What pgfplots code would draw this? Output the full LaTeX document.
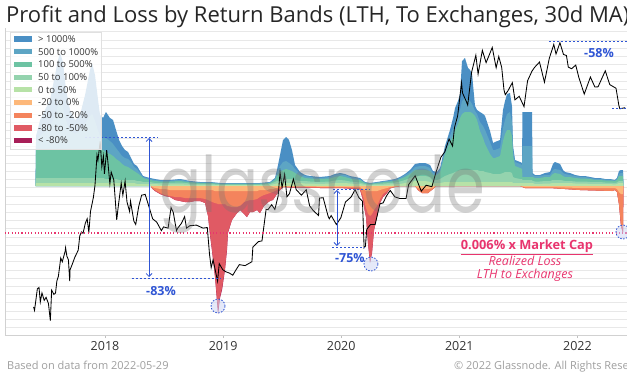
\documentclass[border=0pt]{standalone}
\usepackage{fontspec}
\setmainfont{Open Sans}
\newfontfamily\wmfont{Poppins}
\usepackage{graphicx}
\usepackage{pgfplots}
\pgfplotsset{compat=1.18}
\usepackage{pgfplotstable}
\usetikzlibrary{arrows.meta}

\definecolor{cA}{HTML}{4A8FC4}
\definecolor{cB}{HTML}{5DA5C4}
\definecolor{cC}{HTML}{6DC3A3}
\definecolor{cD}{HTML}{94D3AE}
\definecolor{cE}{HTML}{B7E2A7}
\definecolor{cF}{HTML}{FDB87A}
\definecolor{cG}{HTML}{F4845D}
\definecolor{cH}{HTML}{E05A64}
\definecolor{cI}{HTML}{A81F58}
\definecolor{annblue}{HTML}{2F55D4}
\definecolor{annpink}{HTML}{E8356E}

\pgfplotstableread{
year b1 b2 b3 b4 b5
2017.412 0 0 0 0 0
2017.416 3 8 37 45 50
2017.450 3 8 37 50 66
2017.492 3 8 37 55 76
2017.534 3 8 37 60 86
2017.577 3 8 37 70 111
2017.602 3 8 37 80 126
2017.619 3 8 37 85 133
2017.644 3 8 37 78 124
2017.670 3 8 37 65 96
2017.704 3 8 37 55 76
2017.746 3 8 37 52 66
2017.788 3 8 37 55 71
2017.831 3 8 37 62 91
2017.873 3 8 37 70 116
2017.890 3 8 37 72 123
2017.915 3 8 37 65 111
2017.941 3 8 37 55 86
2017.958 3 8 37 50 71
2017.983 3 8 36 48 68
2018.008 3 7 34 48 74
2018.042 3 7 32 45 68
2018.068 3 7 30 42 66
2018.093 3 7 27 38 56
2018.119 3 6 25 34 46
2018.144 3 6 22 30 40
2018.169 3 6 20 28 36
2018.195 3 6 19 27 34
2018.220 3 6 17 24 28
2018.246 3 6 15 19 22
2018.271 2 5 13 17 20
2018.296 2 5 11 13 15
2018.322 2 4 8 9 10
2018.347 2 4 7 8 9
2018.381 2 4 6 7 8
2018.423 2 3 5 6 7
2018.466 1.5 3 4.5 5.4 6
2018.550 1.5 3 4.5 5.4 6
2018.635 1.7 3.5 5 6.3 7
2018.720 1.2 2.5 3.7 4.5 5
2018.804 1 2 3 3.6 4
2018.889 1 2 3 3.6 4
2018.974 0.8 1.5 2.2 2.7 3
2019.143 0.8 1.5 2.2 2.7 3
2019.312 0.8 1.5 2.2 2.7 3
2019.397 1 2 3 3.6 4
2019.439 2 4 6 7 8
2019.456 2.5 5 10 13 16
2019.482 3 6 14 20 31
2019.507 3 7 16 24 46
2019.533 3 7 17 25 49
2019.558 3 7 16 23 46
2019.583 3 7 15 21 36
2019.609 3 6 13 17 21
2019.651 3 5 10 12 14
2019.693 2.5 5 8 10 11
2019.736 2.5 4.5 7.5 9 10
2019.820 2 4 7 8 9
2019.905 2.5 4.5 7.5 9 10
2019.947 3 5.5 9 11 12
2019.990 3 6 10 12 13
2020.032 3 5.5 9 11 12
2020.074 2.5 4.5 7.5 9 10
2020.117 2 4 6.5 8 9
2020.159 2 3.5 6 7 8
2020.201 1 2 3 3.6 4
2020.244 0.8 1.5 2.2 2.7 3
2020.303 1 2 3 3.6 4
2020.354 1.2 2.5 3.7 4.5 5
2020.413 1.5 3 4.5 5.4 6
2020.456 1.7 3.5 5 6.3 7
2020.498 2 4.5 7 8 9
2020.540 3 6 9 11 12
2020.583 4 8 12 14 16
2020.625 5 10 16 19 22
2020.667 5 10 16 20 23
2020.710 5 10 16 20 23
2020.752 4 9 15 18 21
2020.777 3 6 11 13 15
2020.811 3 6 11 12 14
2020.837 3 7 14 16 18
2020.879 4 10 32 36 40
2020.921 4 12 44 50 56
2020.947 4 13 50 58 68
2020.964 4 14 56 65 78
2020.989 4 15 62 72 85
2021.006 4 16 68 76 92
2021.023 4 16 72 85 125
2021.048 4 16 74 88 128
2021.074 4 16 74 86 118
2021.091 4 16 74 85 116
2021.108 4 16 73 82 112
2021.133 4 16 70 75 80
2021.150 4 16 66 72 76
2021.175 4 15 55 64 74
2021.201 4 15 48 60 72
2021.218 4 14 42 56 70
2021.260 4 13 32 44 55
2021.286 4 12 28 36 43
2021.302 4 12 28 36 44
2021.345 4 12 30 38 46
2021.370 4 13 45 58 76
2021.387 4 14 52 66 85
2021.404 4 14 56 72 92
2021.429 4 14 56 74 93
2021.446 4 13 50 64 80
2021.455 3 9 30 36 40
2021.472 3 8 20 24 26
2021.514 3 7 18 22 24
2021.531 3 7 17 21 23
2021.535 3 6 9 40 74
2021.616 3 6 9 40 74
2021.620 3 5 9 11 13
2021.641 2 4.5 8 10 11
2021.683 2 4.5 8 10 11
2021.726 2.5 5 9 11 13
2021.768 2.5 5 9 11 14
2021.793 3 6 12 16 22
2021.810 3 6 13 17 24
2021.853 3 6 12 16 22
2021.878 3 5.5 10 13 16
2021.895 3 5 9 12 14
2021.937 3 5 9 11 13
2021.980 2.5 4.5 8 10 11
2022.022 2.5 4.5 7.5 9 10
2022.064 2.5 4.5 7.5 9 10
2022.107 2 4 7 8 9
2022.149 2 4 6 7 8
2022.191 2 4 6 7 8
2022.234 2 3.5 5.5 6.5 7
2022.276 2 3.5 5.5 6.5 7
2022.318 1.5 3 5 5.5 6
2022.335 2 3.5 6 7 8
2022.352 3 5 10 12 15
2022.369 3 5 10 13 16
2022.386 3 5 10 13 16
2022.390 0 0 0 0 0
}\profit

\pgfplotstableread{
year l1 l2 l3 l4
2018.390 0 0 0 0
2018.398 -1 -2 -2.5 -2.5
2018.423 -2 -4 -5 -5
2018.466 -3 -7 -8 -8
2018.508 -3 -9 -10 -10
2018.550 -4 -10 -11 -11
2018.593 -4 -11 -14 -14
2018.635 -4 -11 -15 -15
2018.677 -4 -12 -16 -16
2018.720 -4 -12 -16 -16
2018.762 -4 -12 -15 -15
2018.804 -4 -12 -15 -15
2018.847 -4 -13 -17 -17
2018.872 -4 -14 -30 -30
2018.889 -4 -15 -48 -49
2018.906 -4 -16 -64 -65
2018.931 -5 -17 -90 -91
2018.957 -5 -18 -125 -128
2018.974 -5 -18 -110 -112
2018.991 -5 -18 -102 -104
2019.016 -5 -18 -82 -84
2019.033 -5 -20 -62 -64
2019.041 -5 -20 -46 -47
2019.075 -5 -21 -34 -34
2019.118 -5 -21 -27 -27
2019.143 -5 -20 -24 -24
2019.177 -5 -16 -28 -28
2019.202 -5 -15 -31 -31
2019.228 -5 -14 -26 -26
2019.253 -5 -14 -26 -26
2019.287 -5 -13 -24 -24
2019.312 -4 -11 -27 -27
2019.346 -4 -9 -20 -20
2019.372 -4 -8 -17 -17
2019.397 -3 -7 -15 -15
2019.422 -3 -6 -14 -14
2019.456 -2 -4 -8 -8
2019.482 -1 -2 -4 -4
2019.507 -0.5 -1 -1 -1
2019.566 -0.5 -1 -1.5 -1.5
2019.651 -0.5 -1 -1.5 -1.5
2019.820 -0.8 -1.5 -2 -2
2019.990 -0.8 -1.5 -2 -2
2020.117 -1 -2 -3 -3
2020.159 -1 -2.5 -3.5 -3.5
2020.184 -3 -10 -14 -14
2020.201 -4 -18 -26 -26
2020.210 -5 -22 -31 -31
2020.227 -5 -28 -57 -58
2020.244 -5 -30 -76 -77
2020.261 -5 -28 -66 -67
2020.278 -5 -24 -44 -44
2020.303 -5 -20 -31 -31
2020.329 -4 -13 -17 -17
2020.354 -3 -8 -11 -11
2020.388 -2 -5 -7 -7
2020.413 -1 -2 -2.5 -2.5
2020.456 -0.5 -1 -1 -1
2020.498 0 0 0 0
2020.625 0 0 0 0
2020.650 -2 -4 -4 -4
2020.684 -3 -7 -7 -7
2020.735 -3 -7 -7 -7
2020.777 -2 -3 -3 -3
2020.803 0 0 0 0
2021.514 0 0 0 0
2021.556 -1 -2 -2 -2
2021.768 -1 -2 -2 -2
2022.022 -2 -4 -4 -4
2022.293 -2 -5 -5 -5
2022.318 -2 -4 -4 -4
2022.335 -3 -6 -6 -6
2022.352 -6 -18 -18 -18
2022.369 -8 -38 -40 -40
2022.386 -8 -42 -47 -47
2022.390 0 0 0 0
}\loss

\pgfplotstableread{
year p
2017.395 2300
2017.403 2200
2017.427 2900
2017.441 2950
2017.452 2450
2017.466 2750
2017.485 2500
2017.501 2600
2017.521 2400
2017.537 1930
2017.548 2850
2017.567 2700
2017.581 2750
2017.592 3200
2017.605 3400
2017.625 4300
2017.638 4100
2017.663 4700
2017.666 4900
2017.677 4400
2017.690 4200
2017.701 3200
2017.704 3700
2017.718 3900
2017.745 4350
2017.773 4750
2017.786 5700
2017.800 6000
2017.814 5900
2017.833 6700
2017.849 7100
2017.863 5950
2017.877 7800
2017.901 9300
2017.915 10900
2017.932 16000
2017.940 15000
2017.959 19100
2017.973 13800
2017.986 15800
2017.995 12600
2018.014 17100
2018.025 14500
2018.041 11100
2018.052 12900
2018.074 11700
2018.088 8800
2018.099 7000
2018.110 8100
2018.137 11200
2018.151 9600
2018.170 11500
2018.186 8800
2018.208 7800
2018.216 8900
2018.244 6900
2018.260 6600
2018.285 8300
2018.310 9600
2018.340 9700
2018.367 8500
2018.403 7100
2018.438 6800
2018.477 6100
2018.496 6400
2018.534 6300
2018.559 8200
2018.578 7700
2018.605 6100
2018.616 6300
2018.647 6700
2018.674 7300
2018.690 6300
2018.718 6500
2018.773 6550
2018.830 6300
2018.866 6350
2018.885 4500
2018.899 3800
2018.915 4200
2018.953 3200
2018.967 4000
2018.997 3700
2019.025 3600
2019.052 3550
2019.082 3450
2019.104 3650
2019.137 3950
2019.186 3900
2019.244 4100
2019.252 4950
2019.299 5300
2019.329 5350
2019.364 8000
2019.381 8000
2019.411 8500
2019.438 8000
2019.466 9500
2019.482 12900
2019.499 10600
2019.521 12500
2019.540 9400
2019.562 9800
2019.595 11800
2019.619 10300
2019.663 9600
2019.704 10300
2019.732 8400
2019.762 7900
2019.808 7400
2019.816 9250
2019.847 9300
2019.890 7300
2019.899 7100
2019.915 7400
2019.959 6600
2019.997 7200
2020.036 8800
2020.085 9400
2020.117 10300
2020.150 9300
2020.180 8900
2020.194 4900
2020.205 5000
2020.216 6200
2020.248 6600
2020.287 6600
2020.328 8600
2020.355 8700
2020.383 9500
2020.415 10200
2020.454 9400
2020.497 9200
2020.549 9200
2020.571 11000
2020.626 12300
2020.678 10100
2020.719 10900
2020.768 10700
2020.803 12900
2020.844 15600
2020.877 16700
2020.913 19700
2020.943 18000
2020.959 22800
2020.986 26500
2021.019 40500
2021.027 35500
2021.058 32000
2021.071 30400
2021.104 46200
2021.140 57500
2021.159 45200
2021.195 61200
2021.227 52300
2021.279 63500
2021.312 49000
2021.334 56600
2021.359 49200
2021.378 37000
2021.389 34700
2021.414 36700
2021.449 40500
2021.471 32500
2021.507 34000
2021.548 29800
2021.578 41500
2021.616 47000
2021.638 49300
2021.679 52700
2021.721 40700
2021.762 55300
2021.800 66000
2021.819 58400
2021.852 67500
2021.882 58100
2021.907 57300
2021.923 49400
2021.951 48400
2021.986 50700
2022.011 43500
2022.058 35000
2022.110 43500
2022.148 38300
2022.175 38400
2022.236 47100
2022.274 39500
2022.327 37700
2022.351 30300
2022.359 29000
2022.405 29400
}\price

\pgfplotsset{
  base/.style={
    at={(5pt,41pt)}, anchor=south west,
    scale only axis, width=622pt, height=307pt,
    xmin=2017.153, xmax=2022.42,
  }
}

\begin{document}
\begin{tikzpicture}
% ---------- bands ----------
\begin{axis}[base,
  ymin=-149, ymax=158,
  axis x line*=bottom, axis y line*=left,
  axis line style={black!18, line width=0.8pt},
  xtick={2018,2019,2020,2021,2022},
  xticklabels={2018,2019,2020,2021,2022},
  xticklabel style={font=\fontsize{12.5}{12.5}\selectfont, text=black!80},
  xtick style={black!25, line width=0.6pt},
  tick align=outside, major tick length=3pt,
  ytick={-141.3,-133.09,...,155}, yticklabels={},
  ytick style={draw=none},
  ymajorgrids, grid style={black!9, line width=0.6pt},
]
\addplot[fill=cA, draw=none] table[x=year,y=b5]{\profit} \closedcycle;
\addplot[fill=cB, draw=none] table[x=year,y=b4]{\profit} \closedcycle;
\addplot[fill=cC, draw=none] table[x=year,y=b3]{\profit} \closedcycle;
\addplot[fill=cD, draw=none] table[x=year,y=b2]{\profit} \closedcycle;
\addplot[fill=cE, draw=none] table[x=year,y=b1]{\profit} \closedcycle;
\addplot[fill=cI, draw=none] table[x=year,y=l4]{\loss} \closedcycle;
\addplot[fill=cH, draw=none] table[x=year,y=l3]{\loss} \closedcycle;
\addplot[fill=cG, draw=none] table[x=year,y=l2]{\loss} \closedcycle;
\addplot[fill=cF, draw=none] table[x=year,y=l1]{\loss} \closedcycle;
\end{axis}

% ---------- price ----------
\begin{axis}[base, hide axis, ymode=log, ymin=1606, ymax=81470]
\addplot[black, line width=0.85pt] table[x=year,y=p]{\price};
\end{axis}

% ---------- annotations ----------
\begin{axis}[base, hide axis, ymin=-149, ymax=158, clip=false]
\draw[annpink, line width=1.1pt, dash pattern=on 1.1pt off 2.2pt]
  (axis cs:2017.153,-47) -- (axis cs:2022.42,-47);
% 2018 -> 2019
\draw[annblue, line width=0.9pt, dash pattern=on 2pt off 2pt]
  (axis cs:2017.831,49) -- (axis cs:2018.449,49);
\draw[annblue, line width=0.9pt, dash pattern=on 2pt off 2pt]
  (axis cs:2018.225,-92) -- (axis cs:2018.974,-92);
\draw[annblue, line width=0.8pt, {Straight Barb[length=3pt,width=6pt]}-{Straight Barb[length=3pt,width=6pt]}]
  (axis cs:2018.373,48) -- (axis cs:2018.373,-91);
\node[annblue, font=\bfseries\fontsize{12.5}{12.5}\selectfont] at (axis cs:2018.474,-105) {-83\%};
\draw[annblue, line width=0.8pt, dash pattern=on 1.5pt off 1.5pt, fill=annblue!25, fill opacity=0.5]
  (axis cs:2018.957,-120) circle[radius=7pt];
% 2020
\draw[annblue, line width=0.9pt, dash pattern=on 2pt off 2pt]
  (axis cs:2019.931,-3) -- (axis cs:2020.244,-3);
\draw[annblue, line width=0.9pt, dash pattern=on 2pt off 2pt]
  (axis cs:2019.922,-61) -- (axis cs:2020.201,-61);
\draw[annblue, line width=0.8pt, {Straight Barb[length=3pt,width=6pt]}-{Straight Barb[length=3pt,width=6pt]}]
  (axis cs:2019.964,-4) -- (axis cs:2019.964,-60);
\node[annblue, font=\bfseries\fontsize{12.5}{12.5}\selectfont] at (axis cs:2020.074,-72) {-75\%};
\draw[annblue, line width=0.8pt, dash pattern=on 1.5pt off 1.5pt, fill=annblue!25, fill opacity=0.5]
  (axis cs:2020.252,-78) circle[radius=7pt];
% 2022
\draw[annblue, line width=0.9pt, dash pattern=on 2pt off 2pt]
  (axis cs:2021.759,145) -- (axis cs:2022.42,145);
\draw[annblue, line width=0.9pt, dash pattern=on 2pt off 2pt]
  (axis cs:2022.293,78) -- (axis cs:2022.42,78);
\node[annblue, font=\bfseries\fontsize{12.5}{12.5}\selectfont] at (axis cs:2022.183,133) {-58\%};
\draw[annblue, line width=0.8pt, dash pattern=on 1.5pt off 1.5pt, fill=annblue!25, fill opacity=0.5]
  (axis cs:2022.386,-46) circle[radius=7pt];
% pink text
\node[annpink, font=\bfseries\fontsize{12.8}{13}\selectfont, inner sep=0pt] (mc) at (axis cs:2021.573,-60) {0.006\% x Market Cap};
\draw[annpink, line width=0.8pt] ([yshift=-2pt]mc.south west) -- ([yshift=-2pt]mc.south east);
\node[annpink, font=\itshape\fontsize{12.5}{13}\selectfont] at (axis cs:2021.556,-75) {Realized Loss};
\node[annpink, font=\itshape\fontsize{12.5}{13}\selectfont] at (axis cs:2021.556,-89) {LTH to Exchanges};
% watermark
\node[anchor=base, text=black!55, opacity=0.33, font=\wmfont\fontsize{78}{78}\selectfont, inner sep=0pt]
  at (axis cs:2019.837,-26) {\scalebox{0.8}[1]{glassnode}};
\end{axis}

% ---------- legend ----------
\fill[white, fill opacity=0.82] (10pt,227pt) rectangle (101pt,344pt);
\draw[black!12, line width=0.5pt] (10pt,227pt) rectangle (101pt,344pt);
\foreach \c/\t [count=\i] in {cA/{> 1000\%}, cB/{500 to 1000\%}, cC/{100 to 500\%}, cD/{50 to 100\%}, cE/{0 to 50\%}, cF/{-20 to 0\%}, cG/{-50 to -20\%}, cH/{-80 to -50\%}, cI/{< -80\%}} {
  \pgfmathsetmacro\yy{337-12.7*(\i-1)}
  \fill[\c] ({14pt},{(\yy-2.6)*1pt}) rectangle ({32pt},{(\yy+2.6)*1pt});
  \node[anchor=west, inner sep=0pt, font=\fontsize{9.5}{10}\selectfont, text=black!80] at ({38pt},{\yy*1pt}) {\t};
}

% ---------- title and footer ----------
\node[anchor=base west, inner sep=0pt, font=\fontsize{22}{22}\selectfont, text=black!85] at (6pt,354pt)
  {Profit and Loss by Return Bands (LTH, To Exchanges, 30d MA)};
\node[anchor=base west, inner sep=0pt, font=\fontsize{11}{11}\selectfont, text=black!38] at (7pt,7pt)
  {Based on data from 2022-05-29};
\node[anchor=base west, inner sep=0pt, font=\fontsize{11}{11}\selectfont, text=black!38] at (454pt,7pt)
  {© 2022 Glassnode. All Rights Reserved.};

\pgfresetboundingbox
\useasboundingbox (0,0) rectangle (627pt,376pt);
\end{tikzpicture}
\end{document}
